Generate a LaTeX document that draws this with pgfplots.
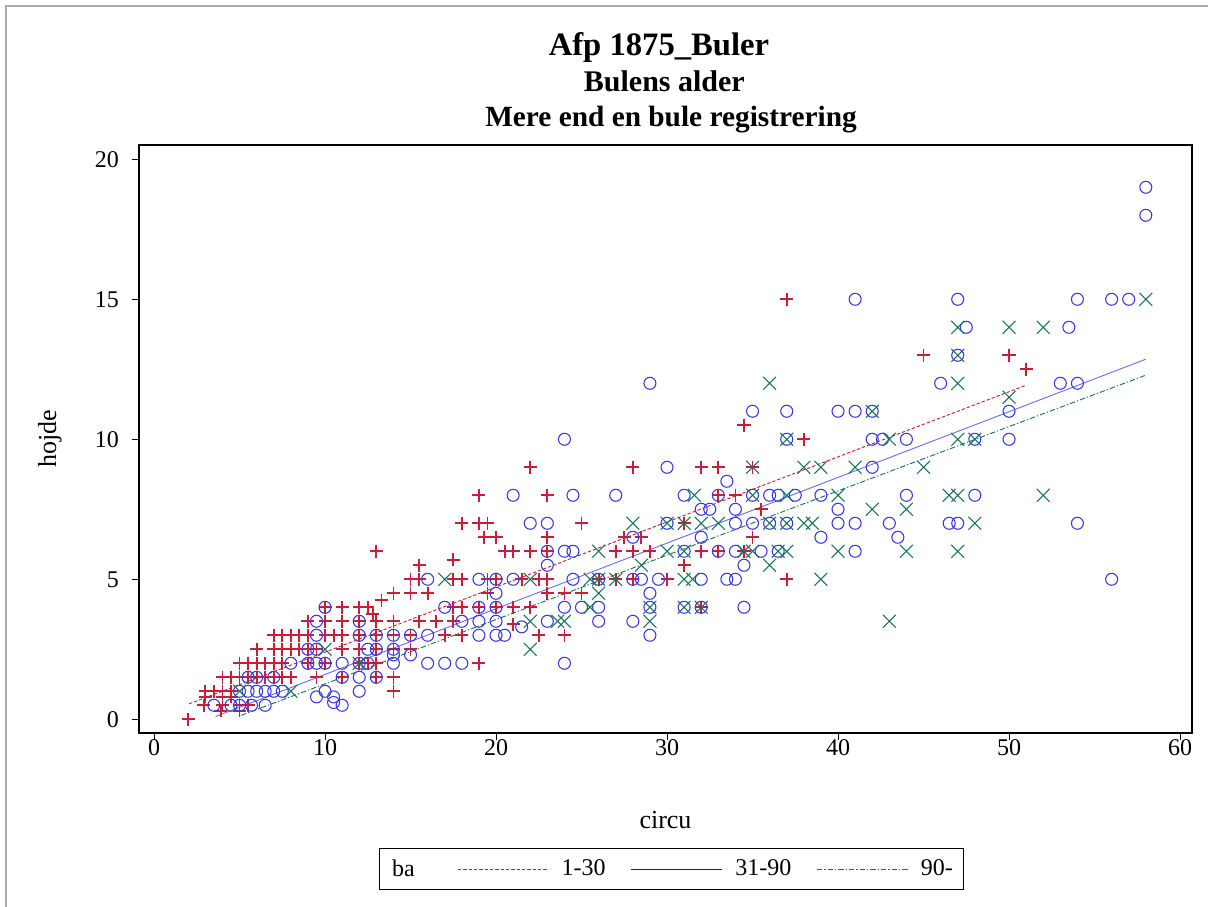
\documentclass[border=0pt]{standalone}
\usepackage{fontspec}
\setmainfont{Liberation Serif}
\usepackage{pgfplots}
\pgfplotsset{compat=1.18}
\definecolor{cred}{RGB}{200,30,55}
\definecolor{cblue}{RGB}{55,55,230}
\definecolor{cblueline}{RGB}{110,110,240}
\definecolor{cgreen}{RGB}{25,115,90}
\definecolor{cnavy}{RGB}{20,20,150}
\begin{document}
\begin{tikzpicture}
\path[use as bounding box] (-104.25pt,-130.5pt) rectangle (801.75pt,549.75pt);
\draw[gray!65, line width=1.5pt] (-100pt,-131pt) -- (-100pt,545pt) -- (802pt,545pt);
\begin{axis}[
  at={(0pt,0pt)}, anchor=south west,
  scale only axis, width=789.75pt, height=441pt,
  xmin=-0.88, xmax=60.7, ymin=-0.49, ymax=20.51,
  xtick={0,10,...,60}, ytick={0,5,...,20},
  xtick pos=left, ytick pos=left,
  tick align=outside, major tick length=5.5pt,
  tick style={black, line width=0.7pt},
  axis line style={line width=0.9pt},
  ticklabel style={font=\fontsize{18}{18}\selectfont},
  xticklabel style={yshift=4pt},
  yticklabel style={xshift=-6pt},
  /pgf/number format/assume math mode=true,
  xlabel={circu}, ylabel={hojde},
  xlabel style={at={([yshift=-65.25pt]axis description cs:0.5,0)}, anchor=center, font=\fontsize{19.5}{19.5}\selectfont},
  ylabel style={at={([xshift=-66.75pt]axis description cs:0,0.5)}, anchor=center, font=\fontsize{19.5}{19.5}\selectfont},
  legend columns=4,
  legend image code/.code={\draw[#1] (0pt,0pt) -- (68pt,0pt);},
  legend style={at={(0.5057,-0.2313)}, anchor=center, draw=black, line width=0.8pt,
    font=\fontsize{18}{18}\selectfont, inner ysep=8.5pt, inner xsep=0pt,
    nodes={inner sep=0pt},
    /tikz/every odd column/.append style={column sep=9.5pt},
    /tikz/every even column/.append style={column sep=19pt}},
  legend cell align=left,
]
% red + (1-30)
\addplot[only marks, mark=+, mark size=4.9pt, cred, mark options={line width=1.4pt}, forget plot] coordinates {
(2,0)(2.9,0.5)(4,0.5)(5,0.5)(5.5,0.5)(3.9,0.3)(5,0.3)
(3,1)(3.5,1)(4,1)(4.5,1)(3,0.8)(4,0.8)(4.5,0.8)
(4,1.5)(4.5,1.5)(5,1.5)(5.5,1.5)(6,1.5)(6.5,1.5)(7,1.5)(7.5,1.5)(8,1.5)
(5,2)(5.5,2)(6,2)(6.5,2)(7,2)(7.5,2)
(6,2.5)(7,2.5)(7.5,2.5)(8,2.5)(8.5,2.5)
(7,3)(7.5,3)(8,3)(8.5,3)(9,3)
(9,3.5)(10,3.5)(11,3.5)(12,3.5)(13,3.5)(14,3.5)(15.5,3.5)(16.5,3.5)(17.5,3.5)
(10,3)(10.5,3)(11,3)(12,3)(13,3)(14,3)(15,3)(17,3)(18,3)
(9,2.5)(9.5,2.5)(11,2.5)(12,2.5)(13,2.5)(14,2.5)(15,2.5)
(9,2)(10,2)(12,2)(12.5,2)(13,2)(19,2)
(9.5,1.5)(11,1.5)(13,1.5)(14,1.5)(14,1)
(10,4)(11,4)(12,4)(12.5,4)(17.5,4)(18,4)(19,4)
(12.8,3.75)(13.3,4.25)
(14,4.5)(15,4.5)(16,4.5)
(15,5)(15.5,5)(17.5,5)(18,5)(20,5)
(13,6)(15.5,5.5)(17.5,5.7)
(18,7)(19,7)(19.5,7)(19.3,6.5)(20,6.5)(19,8)
(22,9)(28,9)(32,9)(33,9)(35,9)(23,8)(25,7)(31,7)
(23,6.5)(27.5,6.5)(28.5,6.5)(35,6.5)
(20.5,6)(21,6)(22,6)(23,6)(27,6)(28,6)(29,6)(32,6)(33,6)(34.5,6)
(31,5.5)
(19.5,5)(21.5,5)(22.5,5)(23,5)(26,5)(27,5)(28,5)(30,5)(37,5)
(19.5,4.5)(23,4.5)(24,4.5)(25,4.5)
(20,4)(21,4)(22,4)(32,4)
(21,3.4)(22.5,3)(24,3)
(37,15)(34.5,10.5)(38,10)(33,8)(34,8)(35.5,7.5)
(45,13)(50,13)(51,12.5)
};
% blue circles (31-90)
\addplot[only marks, mark=o, mark size=4.5pt, cblue, mark options={line width=0.8pt}, forget plot] coordinates {
(3.5,0.5)(4.5,0.5)(5,0.5)(5.7,0.5)(6.5,0.5)
(5,1)(5.5,1)(6,1)(6.5,1)(7,1)(7.5,1)
(5.5,1.5)(6,1.5)(7,1.5)
(8,2)(9,2)(9.5,2)(9,2.5)(9.5,2.5)(9.5,3)(9.5,3.5)
(10,4)(12,3.5)(17,4)(19,4)(20,4)(18,3.5)(19,3.5)(20,3.5)
(12,3)(13,3)(14,3)(15,3)(16,3)(19,3)(20,3)
(12.5,2.5)(13,2.5)(14,2.5)(14,2.3)(15,2.3)
(10,2)(11,2)(12,2)(12.5,2)(14,2)(16,2)(17,2)(18,2)
(11,1.5)(12,1.5)(13,1.5)(10,1)(12,1)(9.5,0.8)(10.5,0.8)(10.5,0.6)(11,0.5)
(16,5)(19,5)(20,5)(20,4.5)
(29,12)(24,10)(30,9)(21,8)(24.5,8)(27,8)(31,8)(22,7)(23,7)(30,7)(28,6.5)
(23,6)(24,6)(24.5,6)(31,6)(23,5.5)
(21,5)(24.5,5)(26,5)(28,5)(28.5,5)(29.5,5)(32,5)
(29,4.5)(24,4)(25,4)(26,4)(29,4)(31,4)(32,4)
(21.5,3.3)(23,3.5)(26,3.5)(28,3.5)(20.5,3)(29,3)(24,2)
(41,15)(35,11)(37,11)(40,11)(41,11)(42,11)(37,10)(42,10)(42.6,10)(44,10)(42,9)
(33.5,8.5)(33,8)(35,8)(36,8)(36.5,8)(37.5,8)(39,8)(44,8)
(32,7.5)(32.5,7.5)(34,7.5)(40,7.5)
(34,7)(35,7)(36,7)(37,7)(40,7)(41,7)(43,7)
(32,6.5)(39,6.5)(43.5,6.5)
(33,6)(34,6)(35.5,6)(36.5,6)(41,6)(34.5,5.5)
(33.5,5)(34,5)(34.5,4)
(47,15)(54,15)(56,15)(57,15)(47.5,14)(53.5,14)(47,13)(46,12)(53,12)(54,12)
(50,11)(48,10)(50,10)(48,8)(46.5,7)(47,7)(54,7)(56,5)(58,19)(58,18)
};
% green x (90-)
\addplot[only marks, mark=x, mark size=6.8pt, cgreen, mark options={line width=0.8pt}, forget plot] coordinates {
(5,1)(8,1)(10,2.5)(12,2)(17,5)(22,2.5)(22,5)(25.5,5)(26,5)(27,5)(31.5,5)
(26,6)(30,6)(31,6)(26,4.5)(25.5,4)(29,4)(31,4)(32,4)
(22,3.5)(23.6,3.5)(24,3.5)(29,3.5)
(28,7)(30,7)(31,7)(32,7)(33,7)(31.6,8)(28.5,5.5)
(36,12)(42,11)(37,10)(43,10)(35,9)(38,9)(39,9)(41,9)
(35,8)(37,8)(40,8)(42,7.5)(44,7.5)
(36,7)(37,7)(38,7)(38.5,7)
(34.5,6)(35,6)(36.5,6)(37,6)(40,6)(44,6)(36,5.5)(31,5)(39,5)(43,3.5)
(58,15)(47,14)(50,14)(52,14)(47,13)(47,12)(50,11.5)(47,10)(48,10)(45,9)
(46.5,8)(47,8)(52,8)(48,7)(47,6)
};
% legend "ba"
\addlegendimage{empty legend}
\addlegendentry{ba\rule{13pt}{0pt}}
% regression lines
\addplot[cred, line width=0.7pt, dash pattern=on 2.5pt off 1.5pt] coordinates {(2.05,0.55) (51,11.93)};
\addlegendentry{1-30}
\addplot[cblueline, line width=0.7pt, legend image post style={cnavy}] coordinates {(3.6,0.1) (58,12.86)};
\addlegendentry{31-90}
\addplot[cgreen, line width=0.7pt, dash pattern=on 4pt off 1.5pt on 1pt off 1.5pt] coordinates {(5.1,0.14) (58,12.29)};
\addlegendentry{90-\rule{8pt}{0pt}}
\end{axis}
\node[font=\bfseries\fontsize{24.5}{24.5}\selectfont] at (390pt,514pt) {Afp 1875\_Buler};
\node[font=\bfseries\fontsize{22.5}{22.5}\selectfont] at (394pt,489pt) {Bulens alder};
\node[font=\bfseries\fontsize{22}{22}\selectfont] at (399pt,460pt) {Mere end en bule registrering};
\end{tikzpicture}
\end{document}
